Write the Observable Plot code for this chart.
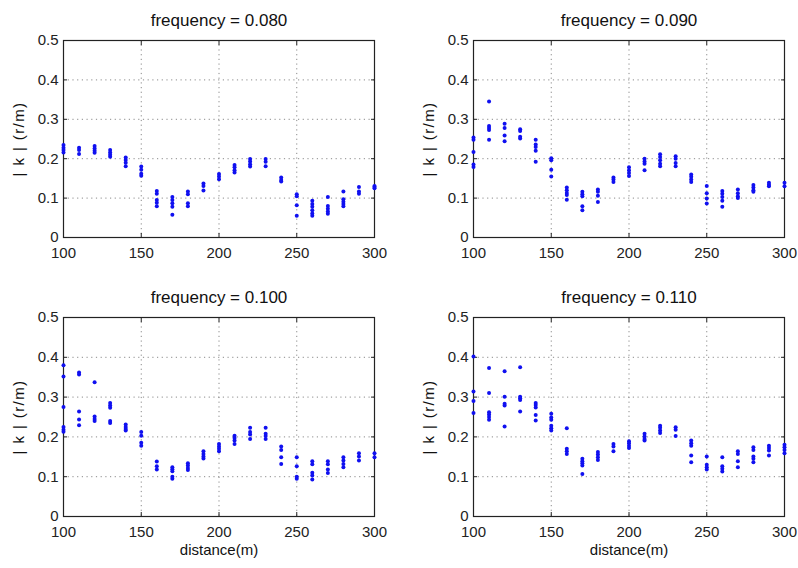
<!DOCTYPE html>
<html><head><meta charset="utf-8">
<script src="https://cdn.jsdelivr.net/npm/d3@7"></script>
<script src="https://cdn.jsdelivr.net/npm/@observablehq/plot@0.6"></script>
<style>
body{margin:0;background:#fff;}
#chart{position:relative;width:798px;height:568px;font-family:"Liberation Sans",Arial,sans-serif;}
#chart svg{position:absolute;background:transparent;}
</style></head><body><div id="chart"></div>
<script>
const distances = [100,110,120,130,140,150,160,170,180,190,200,210,220,230,240,250,260,270,280,290,300];
const titles = ["frequency = 0.080","frequency = 0.090","frequency = 0.100","frequency = 0.110"];
const xLabel = "distance(m)";
const yLabel = "| k | (r/m)";
const xTicks = [100,150,200,250,300];
const yTicks = [0,0.1,0.2,0.3,0.4,0.5];
const xGrid = [150,200,250];
const yGrid = [0.1,0.2,0.3,0.4];

const k080 = [
  [0.235,0.228,0.222,0.216],[0.228,0.222,0.212],[0.232,0.226,0.22,0.215],[0.222,0.216,0.21,0.205],
  [0.203,0.197,0.19,0.181],[0.18,0.172,0.162,0.157],[0.118,0.111,0.095,0.088,0.079],[0.103,0.095,0.087,0.078,0.058],
  [0.117,0.11,0.087,0.079],[0.137,0.131,0.119],[0.161,0.155,0.148],[0.184,0.178,0.171,0.165],
  [0.199,0.193,0.186,0.18],[0.199,0.192,0.181],[0.152,0.146,0.142],[0.11,0.105,0.082,0.055],
  [0.093,0.085,0.078,0.069,0.061,0.055],[0.103,0.08,0.073,0.066,0.06],[0.117,0.097,0.091,0.085,0.079],[0.128,0.117,0.111],[0.131,0.128,0.125]
];
const k090 = [
  [0.254,0.248,0.217,0.185,0.179],[0.345,0.283,0.278,0.273,0.248],[0.289,0.278,0.259,0.244],[0.275,0.27,0.256,0.251],
  [0.248,0.236,0.23,0.22,0.192],[0.201,0.196,0.172,0.155],[0.127,0.12,0.113,0.108,0.096],[0.116,0.11,0.105,0.079,0.069],
  [0.122,0.116,0.106,0.09],[0.152,0.147,0.141],[0.178,0.171,0.164,0.156],[0.2,0.193,0.187,0.171],
  [0.211,0.204,0.196,0.187,0.181],[0.206,0.2,0.189,0.181],[0.16,0.154,0.147,0.141],[0.131,0.112,0.099,0.086],
  [0.118,0.111,0.103,0.093,0.078],[0.122,0.112,0.105,0.1],[0.133,0.127,0.12,0.116],[0.139,0.134,0.13],[0.139,0.13]
];
const k100 = [
  [0.38,0.352,0.275,0.225,0.218,0.213],[0.362,0.357,0.264,0.244,0.229],[0.337,0.251,0.245,0.24],[0.285,0.279,0.273,0.24,0.235],
  [0.231,0.225,0.22,0.216],[0.212,0.203,0.185,0.178],[0.138,0.126,0.118],[0.124,0.119,0.114,0.1,0.095],
  [0.134,0.128,0.122,0.117],[0.164,0.157,0.151,0.146],[0.182,0.176,0.17,0.164],[0.203,0.197,0.191,0.182],
  [0.223,0.212,0.206,0.195],[0.223,0.208,0.202,0.195],[0.176,0.167,0.149,0.132],[0.149,0.126,0.1,0.095],
  [0.139,0.131,0.11,0.103,0.093],[0.139,0.131,0.118,0.109],[0.149,0.141,0.132,0.124],[0.159,0.151,0.141],[0.159,0.149]
];
const k110 = [
  [0.402,0.314,0.29,0.26],[0.373,0.31,0.262,0.256,0.25,0.243],[0.365,0.301,0.283,0.279,0.226],[0.375,0.301,0.297,0.293,0.264],
  [0.285,0.28,0.274,0.255,0.241],[0.258,0.249,0.243,0.228,0.222,0.216],[0.222,0.17,0.164,0.157],[0.145,0.139,0.134,0.128,0.107],
  [0.162,0.156,0.149,0.142],[0.182,0.176,0.164],[0.189,0.184,0.178,0.172],[0.208,0.201,0.195,0.191],
  [0.228,0.223,0.216,0.21],[0.224,0.218,0.202],[0.191,0.184,0.178,0.153,0.136],[0.151,0.13,0.124,0.118],
  [0.149,0.126,0.12,0.113],[0.164,0.157,0.139,0.124],[0.174,0.167,0.151,0.145,0.136],[0.178,0.172,0.166,0.153],[0.18,0.174,0.167,0.159]
];

const panels = [
  {title: titles[0], values: k080, left: 0,   top: 0,   mL: 63, mR: 25, mT: 40, mB: 47, showX: false},
  {title: titles[1], values: k090, left: 399, top: 0,   mL: 74, mR: 14, mT: 40, mB: 47, showX: false},
  {title: titles[2], values: k100, left: 0,   top: 284, mL: 63, mR: 25, mT: 33, mB: 52, showX: true},
  {title: titles[3], values: k110, left: 399, top: 284, mL: 74, mR: 14, mT: 33, mB: 52, showX: true}
];

const chart = document.getElementById("chart");
const fmt = d => String(d);
for (const p of panels) {
  const rows = distances.flatMap((d, i) => p.values[i].map(v => ({distance: d, k: v})));
  const marks = [
    Plot.gridX(xGrid, {stroke: "#8a8a8a", strokeOpacity: 1, strokeDasharray: "1.2,3.5"}),
    Plot.gridY(yGrid, {stroke: "#8a8a8a", strokeOpacity: 1, strokeDasharray: "1.2,3.5"}),
    Plot.axisX(xTicks, {anchor: "bottom", tickSize: -4, tickPadding: 14, tickFormat: fmt, fontSize: 15, label: null, stroke: "#222", color: "#222"}),
    Plot.axisX(xTicks, {anchor: "top", tickSize: -4, tickFormat: () => "", label: null, stroke: "#222"}),
    Plot.axisY(yTicks, {anchor: "left", tickSize: -4, tickPadding: 9, tickFormat: fmt, fontSize: 15, label: null, stroke: "#222", color: "#222"}),
    Plot.axisY(yTicks, {anchor: "right", tickSize: -4, tickFormat: () => "", label: null, stroke: "#222"}),
    Plot.frame({stroke: "#222", strokeWidth: 1.2}),
    Plot.dot(rows, {x: "distance", y: "k", r: 2, fill: "#1010f0", stroke: "none"}),
    Plot.text([p.title], {frameAnchor: "top", lineAnchor: "middle", textAnchor: "middle", dy: -20, fontSize: 17, fill: "#111"}),
    Plot.text([yLabel], {frameAnchor: "left", lineAnchor: "middle", textAnchor: "middle", dx: -44, rotate: -90, fontSize: 15, fill: "#111"})
  ];
  if (p.showX) marks.push(Plot.text([xLabel], {frameAnchor: "bottom", lineAnchor: "middle", textAnchor: "middle", dy: 34, fontSize: 15, fill: "#111"}));
  const svg = Plot.plot({
    width: 399, height: 284,
    marginLeft: p.mL, marginRight: p.mR, marginTop: p.mT, marginBottom: p.mB,
    style: {fontFamily: '"Liberation Sans", Arial, sans-serif', background: "transparent", overflow: "visible"},
    x: {domain: [100, 300]},
    y: {domain: [0, 0.5]},
    marks
  });
  svg.querySelectorAll("text").forEach(t => {
    if (t.textContent === yLabel) t.style.letterSpacing = "1.4px";
  });
  svg.style.left = p.left + "px";
  svg.style.top = p.top + "px";
  chart.appendChild(svg);
}
</script>
</body></html>
